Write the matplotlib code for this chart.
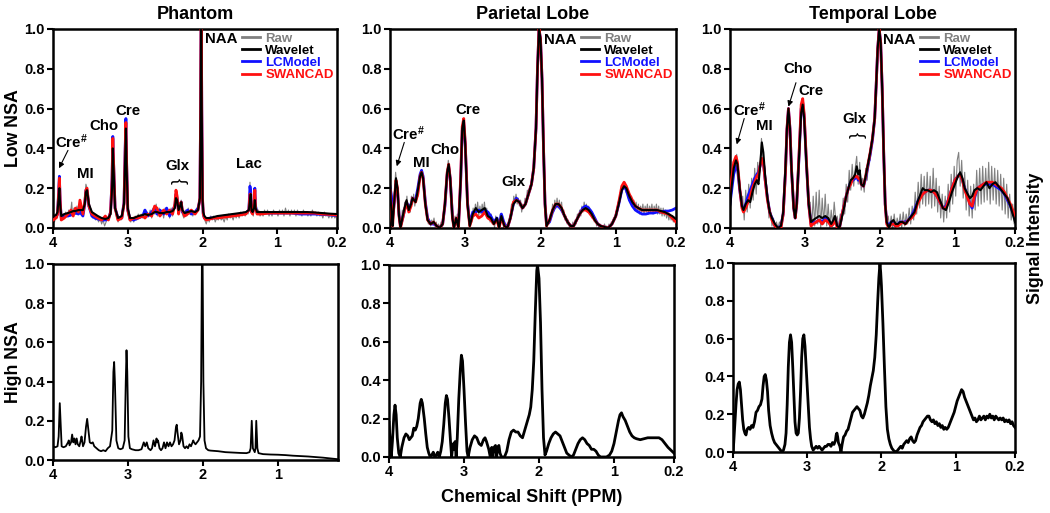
import numpy as np
import matplotlib
matplotlib.use("Agg")
import matplotlib.pyplot as plt

plt.rcParams['font.family'] = ['Liberation Sans', 'DejaVu Sans']
plt.rcParams['font.weight'] = 'bold'
plt.rcParams['mathtext.fontset'] = 'custom'
plt.rcParams['mathtext.rm'] = 'Liberation Sans:bold'
plt.rcParams['mathtext.default'] = 'rm'

# ---------------- data (ppm, intensity) ----------------
titulos = ['Phantom', 'Parietal Lobe', 'Temporal Lobe']
metodos = ['Raw', 'Wavelet', 'LCModel', 'SWANCAD']
colores = ['#808080', 'black', '#1010ff', '#ff1010']
xticks = [4, 3, 2, 1, 0.2]
xticklabels = ['4', '3', '2', '1', '0.2']

# Phantom, low NSA: shared ppm grid for Wavelet / LCModel / SWANCAD
ph_ppm = [4.00, 3.96, 3.94, 3.925, 3.915, 3.905, 3.89, 3.85, 3.80, 3.76, 3.73, 3.70, 3.66, 3.64, 3.60,
          3.575, 3.56, 3.545, 3.52, 3.48, 3.44, 3.40, 3.35, 3.30, 3.26, 3.23, 3.21, 3.20, 3.19, 3.17,
          3.13, 3.08, 3.05, 3.035, 3.025, 3.015, 3.00, 2.97, 2.92, 2.86, 2.80, 2.77, 2.73, 2.68, 2.64,
          2.61, 2.57, 2.52, 2.48, 2.44, 2.40, 2.37, 2.355, 2.34, 2.32, 2.30, 2.285, 2.27, 2.24, 2.20,
          2.15, 2.10, 2.06, 2.035, 2.025, 2.02, 2.015, 2.01, 2.00, 1.99, 1.975, 1.95, 1.90, 1.85, 1.80,
          1.70, 1.60, 1.50, 1.42, 1.38, 1.365, 1.355, 1.345, 1.33, 1.31, 1.30, 1.29, 1.27, 1.22, 1.10,
          1.00, 0.90, 0.80, 0.70, 0.60, 0.50, 0.40, 0.30, 0.20]
ph_wavelet = [.06, .065, .08, .15, .20, .12, .06, .07, .075, .08, .085, .085, .09, .09, .09,
              .12, .18, .19, .12, .08, .07, .06, .05, .045, .05, .07, .20, .40, .30, .10,
              .05, .06, .12, .35, .50, .30, .10, .05, .05, .06, .065, .07, .065, .07, .08,
              .08, .075, .075, .08, .08, .085, .10, .15, .14, .09, .11, .13, .09, .075, .08,
              .085, .08, .09, .15, .60, 1.0, 1.0, .60, .15, .08, .06, .05, .05, .055, .06,
              .065, .07, .075, .08, .09, .14, .17, .09, .08, .10, .14, .10, .08, .08, .08,
              .08, .08, .08, .08, .08, .078, .075, .072, .07]
ph_lcmodel = [.05, .055, .07, .18, .26, .14, .05, .06, .06, .065, .07, .075, .07, .08, .06,
              .12, .19, .19, .11, .06, .05, .045, .04, .04, .045, .08, .25, .46, .33, .10,
              .05, .05, .13, .40, .55, .32, .09, .045, .04, .05, .06, .09, .06, .08, .10,
              .07, .09, .07, .10, .06, .09, .11, .17, .15, .08, .12, .13, .08, .07, .09,
              .07, .08, .10, .14, .60, 1.0, 1.0, .60, .14, .07, .05, .045, .05, .05, .055,
              .06, .065, .07, .075, .09, .21, .18, .08, .075, .12, .20, .11, .075, .075, .075,
              .075, .075, .075, .07, .07, .07, .068, .066, .062]
ph_swancad = [.04, .05, .07, .17, .25, .14, .04, .05, .07, .09, .06, .10, .08, .14, .07,
              .13, .19, .20, .11, .07, .06, .05, .04, .06, .04, .08, .24, .45, .33, .10,
              .04, .05, .12, .38, .53, .32, .09, .04, .05, .05, .06, .05, .07, .06, .11,
              .10, .06, .09, .07, .09, .07, .12, .19, .16, .07, .12, .13, .09, .06, .07,
              .09, .07, .09, .15, .60, 1.0, 1.0, .60, .15, .07, .05, .04, .045, .05, .05,
              .055, .06, .065, .07, .09, .17, .17, .08, .07, .11, .19, .10, .07, .07, .075,
              .075, .075, .075, .075, .075, .075, .07, .068, .065]
ph_raw = [(4.00, .05), (3.98, .03), (3.96, .06), (3.94, .05), (3.925, .15), (3.915, .20), (3.905, .10),
          (3.89, .04), (3.87, .07), (3.85, .05), (3.83, .08), (3.81, .06), (3.79, .09), (3.77, .06),
          (3.75, .13), (3.74, .07), (3.72, .10), (3.70, .07), (3.68, .11), (3.66, .08), (3.64, .12),
          (3.62, .07), (3.60, .10), (3.58, .13), (3.56, .22), (3.545, .20), (3.53, .14), (3.51, .09),
          (3.49, .07), (3.47, .05), (3.45, .06), (3.43, .04), (3.41, .05), (3.39, .03), (3.37, .05),
          (3.35, .02), (3.33, .04), (3.31, .01), (3.29, .03), (3.27, .05), (3.25, .04), (3.23, .07),
          (3.21, .20), (3.20, .40), (3.19, .30), (3.17, .10), (3.15, .05), (3.13, .03), (3.11, .05),
          (3.09, .04), (3.07, .06), (3.05, .12), (3.035, .35), (3.025, .50), (3.015, .30), (3.00, .09),
          (2.98, .04), (2.96, .03), (2.94, .05), (2.92, .03), (2.90, .06), (2.88, .04), (2.86, .07),
          (2.84, .05), (2.82, .07), (2.80, .05), (2.78, .09), (2.76, .05), (2.74, .08), (2.72, .06),
          (2.70, .09), (2.68, .05), (2.66, .10), (2.64, .07), (2.62, .12), (2.60, .06), (2.58, .10),
          (2.56, .06), (2.54, .09), (2.52, .05), (2.50, .10), (2.48, .07), (2.46, .09), (2.44, .05),
          (2.42, .10), (2.40, .06), (2.38, .11), (2.365, .15), (2.355, .17), (2.34, .14), (2.32, .08),
          (2.30, .12), (2.285, .14), (2.27, .07), (2.25, .05), (2.23, .09), (2.21, .06), (2.19, .10),
          (2.17, .07), (2.15, .09), (2.13, .06), (2.11, .08), (2.09, .07), (2.07, .10), (2.05, .09),
          (2.035, .15), (2.025, .60), (2.02, 1.0), (2.015, 1.0), (2.01, .60), (2.00, .14), (1.99, .06),
          (1.97, .04), (1.95, .02), (1.93, .05), (1.91, .03), (1.89, .06), (1.87, .04), (1.85, .06),
          (1.83, .03), (1.81, .05), (1.79, .04), (1.77, .06), (1.75, .04), (1.73, .05), (1.71, .03),
          (1.69, .06), (1.67, .04), (1.65, .07), (1.63, .05), (1.61, .06), (1.59, .04), (1.57, .07),
          (1.55, .05), (1.53, .07), (1.51, .05), (1.49, .08), (1.47, .06), (1.45, .08), (1.43, .06),
          (1.41, .08), (1.39, .07), (1.375, .12), (1.365, .23), (1.355, .16), (1.34, .08), (1.32, .06),
          (1.31, .10), (1.30, .16), (1.29, .10), (1.27, .07), (1.25, .09), (1.23, .06), (1.21, .08),
          (1.19, .06), (1.17, .09), (1.15, .07), (1.13, .09), (1.11, .06), (1.09, .08), (1.07, .06),
          (1.05, .09), (1.03, .07), (1.01, .08), (0.99, .06), (0.97, .09), (0.95, .07), (0.93, .09),
          (0.91, .06), (0.89, .10), (0.87, .07), (0.85, .09), (0.83, .06), (0.81, .09), (0.79, .07),
          (0.77, .09), (0.75, .06), (0.73, .09), (0.71, .07), (0.69, .08), (0.67, .06), (0.65, .09),
          (0.63, .07), (0.61, .08), (0.59, .06), (0.57, .08), (0.55, .06), (0.53, .09), (0.51, .07),
          (0.49, .08), (0.47, .06), (0.45, .08), (0.43, .06), (0.41, .07), (0.39, .05), (0.37, .08),
          (0.35, .06), (0.33, .07), (0.31, .05), (0.29, .07), (0.27, .05), (0.25, .07), (0.23, .05),
          (0.21, .06), (0.20, .06)]

# Parietal lobe, low NSA
pa_ppm = [4.00, 3.98, 3.965, 3.95, 3.92, 3.90, 3.88, 3.86, 3.83, 3.80, 3.78, 3.75, 3.72, 3.70, 3.66,
          3.63, 3.60, 3.58, 3.56, 3.53, 3.50, 3.46, 3.42, 3.38, 3.34, 3.30, 3.27, 3.24, 3.22, 3.20,
          3.17, 3.15, 3.12, 3.09, 3.06, 3.04, 3.02, 3.00, 2.97, 2.94, 2.90, 2.86, 2.82, 2.78, 2.74,
          2.70, 2.66, 2.62, 2.58, 2.55, 2.52, 2.48, 2.44, 2.40, 2.36, 2.32, 2.28, 2.24, 2.20, 2.16,
          2.12, 2.09, 2.06, 2.04, 2.02, 2.00, 1.98, 1.96, 1.94, 1.92, 1.88, 1.84, 1.80, 1.76, 1.72,
          1.68, 1.64, 1.60, 1.56, 1.52, 1.48, 1.44, 1.40, 1.36, 1.32, 1.28, 1.24, 1.20, 1.15, 1.10,
          1.05, 1.00, 0.96, 0.92, 0.89, 0.86, 0.82, 0.78, 0.74, 0.70, 0.65, 0.60, 0.55, 0.50, 0.45,
          0.40, 0.35, 0.30, 0.25, 0.20]
pa_wavelet = [.20, .08, .01, .10, .25, .20, .06, .00, .06, .11, .14, .09, .12, .15, .13,
              .19, .26, .28, .25, .12, .04, .02, .03, .01, .00, .02, .12, .28, .32, .25,
              .05, .00, .05, .00, .25, .50, .54, .42, .12, .01, .07, .10, .08, .09, .10,
              .06, .05, .02, .05, .00, .06, .01, .00, .05, .12, .14, .13, .10, .12, .17,
              .22, .30, .50, .80, 1.0, .95, .75, .40, .12, .01, .04, .09, .12, .12, .10,
              .06, .03, .01, .01, .04, .07, .09, .10, .09, .07, .04, .02, .01, .005, .00,
              .02, .06, .12, .19, .21, .20, .16, .13, .11, .10, .09, .09, .09, .09, .09,
              .085, .08, .07, .06, .045]
pa_lcmodel = [.21, .16, .06, .10, .22, .19, .07, .01, .05, .10, .13, .10, .12, .15, .14,
              .20, .27, .29, .26, .13, .05, .02, .02, .01, .00, .02, .11, .27, .31, .25,
              .06, .01, .04, .01, .24, .49, .53, .42, .13, .02, .08, .08, .09, .08, .09,
              .08, .06, .03, .05, .01, .07, .02, .00, .05, .12, .15, .13, .10, .12, .17,
              .22, .30, .50, .80, 1.0, .95, .75, .40, .12, .02, .03, .08, .11, .11, .09,
              .06, .03, .01, .01, .04, .07, .10, .11, .10, .08, .05, .02, .01, .005, .00,
              .02, .06, .12, .19, .21, .19, .14, .11, .09, .08, .07, .07, .075, .075, .08,
              .08, .085, .085, .09, .10]
pa_swancad = [.19, .08, .01, .10, .24, .20, .06, .00, .05, .10, .13, .08, .11, .15, .13,
              .17, .26, .28, .25, .12, .04, .02, .03, .01, .00, .02, .12, .28, .32, .25,
              .05, .00, .05, .00, .26, .51, .55, .43, .12, .01, .06, .07, .05, .06, .08,
              .05, .04, .02, .04, .00, .05, .01, .00, .05, .13, .14, .13, .10, .12, .17,
              .22, .30, .50, .80, 1.0, .95, .75, .40, .12, .01, .04, .09, .12, .12, .10,
              .06, .03, .01, .01, .04, .07, .09, .09, .08, .06, .04, .02, .01, .005, .00,
              .02, .06, .13, .21, .23, .21, .17, .14, .11, .10, .09, .09, .09, .09, .09,
              .08, .075, .07, .05, .03]
pa_raw = [(4.00, .22), (3.985, .12), (3.97, .02), (3.955, .08), (3.94, .18), (3.925, .28), (3.91, .22),
          (3.895, .16), (3.88, .05), (3.865, .01), (3.85, .03), (3.835, .09), (3.82, .06), (3.805, .13),
          (3.79, .10), (3.775, .16), (3.76, .09), (3.745, .12), (3.73, .08), (3.715, .16), (3.70, .12),
          (3.685, .17), (3.67, .11), (3.655, .15), (3.64, .18), (3.625, .16), (3.61, .24), (3.595, .25),
          (3.58, .29), (3.565, .26), (3.55, .22), (3.535, .17), (3.52, .09), (3.505, .07), (3.49, .02),
          (3.475, .04), (3.46, .01), (3.445, .04), (3.43, .02), (3.415, .05), (3.40, .01), (3.385, .03),
          (3.37, .00), (3.355, .02), (3.34, .00), (3.32, .03), (3.30, .01), (3.285, .06), (3.27, .14),
          (3.255, .22), (3.24, .29), (3.225, .34), (3.21, .30), (3.195, .20), (3.18, .10), (3.165, .03),
          (3.15, .00), (3.135, .06), (3.12, .03), (3.105, .07), (3.09, .00), (3.075, .10), (3.06, .26),
          (3.045, .45), (3.03, .54), (3.015, .53), (3.00, .42), (2.985, .28), (2.97, .13), (2.955, .04),
          (2.94, .00), (2.925, .06), (2.91, .03), (2.895, .10), (2.88, .06), (2.865, .12), (2.85, .08),
          (2.835, .13), (2.82, .06), (2.805, .11), (2.79, .07), (2.775, .12), (2.76, .08), (2.745, .13),
          (2.73, .07), (2.715, .10), (2.70, .05), (2.685, .08), (2.67, .03), (2.655, .07), (2.64, .02),
          (2.625, .04), (2.61, .00), (2.595, .06), (2.58, .03), (2.565, .05), (2.55, .00), (2.535, .07),
          (2.52, .04), (2.505, .06), (2.49, .00), (2.475, .03), (2.46, .00), (2.445, .02), (2.43, .00),
          (2.415, .05), (2.40, .07), (2.385, .12), (2.37, .10), (2.355, .16), (2.34, .13), (2.325, .17),
          (2.31, .12), (2.295, .15), (2.28, .11), (2.265, .14), (2.25, .08), (2.235, .12), (2.22, .10),
          (2.205, .15), (2.19, .13), (2.175, .19), (2.16, .16), (2.145, .21), (2.13, .19), (2.115, .25),
          (2.10, .27), (2.08, .36), (2.06, .50), (2.04, .80), (2.02, 1.0), (2.00, .95), (1.98, .75),
          (1.96, .40), (1.945, .15), (1.93, .03), (1.915, .00), (1.90, .04), (1.885, .02), (1.87, .07),
          (1.855, .05), (1.84, .12), (1.825, .08), (1.81, .14), (1.795, .10), (1.78, .15), (1.765, .10),
          (1.75, .14), (1.735, .09), (1.72, .13), (1.705, .07), (1.69, .09), (1.675, .04), (1.66, .06),
          (1.645, .02), (1.63, .04), (1.615, .00), (1.60, .02), (1.585, .00), (1.57, .03), (1.555, .01),
          (1.54, .04), (1.525, .02), (1.51, .07), (1.495, .05), (1.48, .09), (1.465, .06), (1.45, .11),
          (1.435, .08), (1.42, .13), (1.405, .09), (1.39, .12), (1.375, .08), (1.36, .11), (1.345, .07),
          (1.33, .09), (1.315, .05), (1.30, .07), (1.285, .03), (1.27, .05), (1.255, .01), (1.24, .03),
          (1.225, .00), (1.21, .02), (1.195, .00), (1.18, .01), (1.165, .00), (1.15, .02), (1.135, .00),
          (1.12, .01), (1.105, .00), (1.09, .02), (1.075, .00), (1.06, .03), (1.045, .02), (1.03, .05),
          (1.015, .04), (1.00, .08), (0.985, .09), (0.97, .13), (0.955, .12), (0.94, .18), (0.925, .17),
          (0.91, .22), (0.895, .20), (0.88, .23), (0.865, .18), (0.85, .20), (0.835, .15), (0.82, .18),
          (0.805, .13), (0.79, .16), (0.775, .11), (0.76, .14), (0.745, .09), (0.73, .13), (0.715, .08),
          (0.70, .12), (0.685, .07), (0.67, .11), (0.655, .08), (0.64, .12), (0.625, .07), (0.61, .11),
          (0.595, .08), (0.58, .12), (0.565, .07), (0.55, .11), (0.535, .08), (0.52, .12), (0.505, .07),
          (0.49, .11), (0.475, .08), (0.46, .12), (0.445, .07), (0.43, .11), (0.415, .07), (0.40, .10),
          (0.385, .06), (0.37, .10), (0.355, .06), (0.34, .09), (0.325, .05), (0.31, .08), (0.295, .04),
          (0.28, .07), (0.265, .04), (0.25, .06), (0.235, .03), (0.22, .05), (0.205, .02), (0.20, .04)]

# Temporal lobe, low NSA
te_ppm = [4.00, 3.98, 3.95, 3.92, 3.90, 3.87, 3.84, 3.82, 3.79, 3.76, 3.73, 3.70, 3.67, 3.64, 3.62,
          3.60, 3.575, 3.555, 3.53, 3.50, 3.47, 3.44, 3.40, 3.36, 3.32, 3.29, 3.26, 3.24, 3.22, 3.20,
          3.18, 3.15, 3.13, 3.11, 3.08, 3.05, 3.03, 3.01, 2.98, 2.95, 2.92, 2.89, 2.85, 2.81, 2.77,
          2.73, 2.69, 2.65, 2.62, 2.60, 2.57, 2.54, 2.51, 2.48, 2.45, 2.42, 2.39, 2.36, 2.33, 2.31,
          2.29, 2.27, 2.25, 2.22, 2.19, 2.16, 2.13, 2.10, 2.07, 2.05, 2.03, 2.01, 1.99, 1.97, 1.95,
          1.93, 1.91, 1.88, 1.85, 1.82, 1.79, 1.76, 1.73, 1.70, 1.66, 1.62, 1.58, 1.54, 1.50, 1.46,
          1.43, 1.40, 1.36, 1.32, 1.28, 1.24, 1.20, 1.16, 1.12, 1.08, 1.04, 1.00, 0.96, 0.93, 0.90,
          0.87, 0.83, 0.80, 0.77, 0.74, 0.70, 0.66, 0.62, 0.58, 0.54, 0.50, 0.46, 0.42, 0.38, 0.34,
          0.30, 0.26, 0.23, 0.20]
te_wavelet = [.10, .20, .30, .34, .32, .20, .11, .09, .12, .14, .13, .18, .22, .24, .22,
              .30, .43, .38, .26, .15, .08, .05, .02, .00, .01, .08, .30, .50, .60, .50,
              .30, .10, .05, .12, .35, .58, .62, .55, .32, .12, .03, .04, .05, .06, .05,
              .06, .05, .02, .04, .06, .01, .00, .05, .10, .16, .20, .24, .25, .27, .31,
              .27, .29, .22, .21, .26, .32, .38, .45, .55, .72, .90, 1.0, .93, .70, .38,
              .12, .03, .00, .03, .04, .02, .02, .03, .03, .02, .04, .06, .08, .13, .17,
              .20, .19, .19, .18, .19, .18, .14, .10, .09, .13, .18, .22, .26, .28, .25,
              .20, .17, .15, .16, .19, .20, .19, .21, .23, .20, .22, .23, .21, .19, .17,
              .15, .11, .07, .03]
te_lcmodel = [.12, .18, .27, .31, .30, .19, .11, .09, .12, .16, .19, .22, .25, .27, .28,
              .31, .34, .33, .24, .15, .08, .05, .01, .00, .01, .07, .28, .49, .60, .50,
              .30, .10, .05, .12, .35, .60, .63, .56, .32, .12, .02, .03, .03, .04, .03,
              .05, .04, .01, .03, .05, .01, .00, .06, .11, .16, .20, .23, .24, .25, .26,
              .24, .25, .22, .21, .25, .31, .37, .44, .55, .72, .90, 1.0, .93, .70, .38,
              .12, .03, .01, .03, .02, .01, .02, .03, .03, .03, .04, .06, .09, .13, .16,
              .17, .18, .19, .19, .18, .16, .13, .10, .11, .15, .20, .24, .26, .27, .24,
              .20, .16, .12, .10, .15, .20, .21, .22, .22, .22, .22, .21, .20, .19, .17,
              .14, .11, .08, .05]
te_swancad = [.16, .24, .33, .36, .33, .20, .10, .08, .10, .13, .16, .20, .23, .26, .27,
              .31, .35, .33, .24, .14, .08, .04, .01, .00, .00, .07, .28, .50, .60, .50,
              .30, .10, .05, .12, .36, .62, .65, .57, .33, .12, .01, .02, .03, .04, .02,
              .04, .03, .01, .02, .05, .00, .00, .06, .11, .16, .20, .22, .25, .26, .26,
              .25, .25, .22, .21, .26, .32, .38, .45, .55, .72, .90, 1.0, .93, .70, .38,
              .12, .02, .00, .02, .02, .01, .01, .02, .03, .02, .04, .05, .07, .12, .15,
              .17, .18, .19, .19, .18, .16, .13, .10, .10, .15, .20, .24, .26, .27, .24,
              .19, .15, .12, .11, .16, .20, .21, .22, .23, .23, .23, .22, .21, .20, .18,
              .15, .12, .09, .06]
te_raw = [(4.00, .05), (3.98, .22), (3.96, .26), (3.94, .33), (3.92, .30), (3.91, .37), (3.89, .27),
          (3.87, .24), (3.85, .12), (3.83, .16), (3.81, .04), (3.79, .19), (3.77, .08), (3.75, .22),
          (3.73, .10), (3.71, .25), (3.69, .14), (3.67, .30), (3.65, .17), (3.63, .33), (3.61, .24),
          (3.59, .38), (3.58, .45), (3.56, .36), (3.54, .32), (3.52, .20), (3.50, .17), (3.48, .05),
          (3.46, .09), (3.44, .01), (3.42, .05), (3.40, .00), (3.38, .03), (3.36, .00), (3.34, .03),
          (3.32, .00), (3.30, .06), (3.28, .16), (3.26, .30), (3.24, .50), (3.22, .60), (3.20, .50),
          (3.18, .30), (3.16, .13), (3.14, .06), (3.12, .08), (3.10, .20), (3.08, .36), (3.06, .53),
          (3.04, .61), (3.03, .63), (3.01, .55), (2.99, .40), (2.97, .24), (2.95, .12), (2.93, .13),
          (2.91, .00), (2.89, .16), (2.87, .01), (2.85, .18), (2.83, .02), (2.81, .19), (2.79, .00),
          (2.77, .15), (2.75, .02), (2.73, .17), (2.71, .01), (2.69, .12), (2.67, .00), (2.65, .09),
          (2.63, .01), (2.61, .13), (2.59, .04), (2.57, .06), (2.55, .00), (2.53, .07), (2.51, .03),
          (2.49, .15), (2.47, .07), (2.45, .22), (2.43, .13), (2.41, .29), (2.39, .19), (2.37, .32),
          (2.35, .21), (2.33, .30), (2.31, .36), (2.29, .22), (2.27, .33), (2.25, .19), (2.23, .25),
          (2.21, .18), (2.19, .30), (2.17, .24), (2.15, .36), (2.13, .34), (2.11, .43), (2.09, .50),
          (2.07, .56), (2.05, .72), (2.03, .90), (2.01, 1.0), (1.99, .93), (1.97, .70), (1.95, .38),
          (1.93, .12), (1.91, .02), (1.89, .06), (1.87, .00), (1.85, .06), (1.83, .00), (1.81, .07),
          (1.79, .00), (1.77, .05), (1.75, .01), (1.73, .07), (1.71, .00), (1.69, .08), (1.67, .01),
          (1.65, .07), (1.63, .02), (1.61, .10), (1.59, .02), (1.57, .11), (1.55, .04), (1.53, .18),
          (1.51, .07), (1.49, .23), (1.47, .10), (1.45, .27), (1.43, .12), (1.41, .26), (1.39, .11),
          (1.37, .28), (1.35, .12), (1.33, .26), (1.31, .10), (1.29, .30), (1.27, .11), (1.25, .25),
          (1.23, .08), (1.21, .21), (1.19, .05), (1.17, .17), (1.15, .03), (1.13, .16), (1.11, .05),
          (1.09, .22), (1.07, .08), (1.05, .27), (1.03, .12), (1.01, .31), (0.99, .16), (0.97, .34),
          (0.95, .38), (0.93, .21), (0.91, .34), (0.89, .15), (0.87, .28), (0.85, .09), (0.83, .24),
          (0.81, .06), (0.79, .21), (0.77, .05), (0.75, .22), (0.73, .09), (0.71, .29), (0.69, .11),
          (0.67, .30), (0.65, .12), (0.63, .31), (0.61, .13), (0.59, .30), (0.57, .14), (0.55, .33),
          (0.53, .12), (0.51, .31), (0.49, .14), (0.47, .30), (0.45, .12), (0.43, .29), (0.41, .11),
          (0.39, .27), (0.37, .09), (0.35, .25), (0.33, .07), (0.31, .22), (0.29, .05), (0.27, .17),
          (0.25, .04), (0.23, .12), (0.21, .02), (0.20, .05)]

# High NSA (reference spectra)
ph_high = [(4.00, .07), (3.97, .065), (3.94, .07), (3.925, .12), (3.91, .29), (3.90, .20), (3.885, .07),
           (3.86, .065), (3.83, .07), (3.80, .09), (3.79, .10), (3.78, .075), (3.76, .09), (3.745, .13),
           (3.73, .09), (3.715, .11), (3.70, .08), (3.685, .11), (3.67, .08), (3.65, .07), (3.63, .10),
           (3.62, .12), (3.60, .07), (3.58, .09), (3.56, .17), (3.545, .21), (3.53, .16), (3.51, .09),
           (3.49, .085), (3.47, .09), (3.45, .07), (3.42, .06), (3.39, .05), (3.36, .045), (3.33, .05),
           (3.30, .045), (3.27, .06), (3.24, .07), (3.21, .15), (3.195, .45), (3.185, .50), (3.175, .40),
           (3.155, .10), (3.13, .06), (3.10, .055), (3.07, .06), (3.045, .10), (3.03, .40), (3.02, .56),
           (3.01, .45), (2.995, .12), (2.975, .06), (2.95, .055), (2.90, .05), (2.86, .05), (2.82, .055),
           (2.79, .09), (2.77, .07), (2.75, .09), (2.73, .06), (2.70, .05), (2.68, .06), (2.66, .10),
           (2.64, .07), (2.62, .11), (2.61, .09), (2.60, .10), (2.58, .06), (2.56, .05), (2.54, .06),
           (2.52, .09), (2.50, .06), (2.48, .09), (2.46, .07), (2.44, .09), (2.42, .07), (2.40, .08),
           (2.38, .10), (2.36, .17), (2.35, .18), (2.34, .14), (2.32, .08), (2.30, .10), (2.29, .14),
           (2.28, .13), (2.26, .07), (2.24, .06), (2.22, .07), (2.20, .06), (2.18, .08), (2.16, .07),
           (2.14, .09), (2.13, .10), (2.12, .09), (2.10, .08), (2.08, .09), (2.06, .10), (2.04, .12),
           (2.025, .40), (2.015, 1.0), (2.005, 1.0), (1.995, .40), (1.98, .10), (1.96, .06), (1.93, .05),
           (1.90, .048), (1.80, .045), (1.70, .04), (1.60, .038), (1.50, .036), (1.42, .035), (1.38, .04),
           (1.365, .06), (1.35, .20), (1.335, .06), (1.31, .04), (1.30, .06), (1.29, .20), (1.275, .06),
           (1.26, .035), (1.20, .03), (1.10, .028), (1.00, .027), (0.90, .025), (0.80, .022), (0.70, .02),
           (0.60, .018), (0.50, .015), (0.40, .012), (0.30, .008), (0.20, .004)]
pa_high = [(4.00, .18), (3.985, .08), (3.97, .00), (3.955, .08), (3.935, .22), (3.92, .27), (3.905, .22),
           (3.89, .10), (3.87, .02), (3.85, .00), (3.83, .05), (3.80, .10), (3.775, .12), (3.75, .11),
           (3.73, .09), (3.71, .10), (3.69, .11), (3.67, .15), (3.65, .14), (3.63, .16), (3.61, .20),
           (3.585, .28), (3.57, .30), (3.555, .28), (3.53, .20), (3.51, .12), (3.49, .05), (3.47, .02),
           (3.45, .00), (3.43, .01), (3.41, .025), (3.39, .00), (3.37, .01), (3.35, .025), (3.33, .00),
           (3.31, .03), (3.29, .08), (3.27, .17), (3.25, .28), (3.235, .32), (3.22, .30), (3.20, .20),
           (3.18, .08), (3.165, .00), (3.15, .06), (3.14, .07), (3.13, .04), (3.12, .08), (3.105, .00),
           (3.09, .10), (3.07, .30), (3.05, .45), (3.035, .53), (3.02, .50), (3.00, .35), (2.98, .18),
           (2.96, .03), (2.945, .00), (2.92, .05), (2.89, .09), (2.86, .11), (2.83, .10), (2.80, .07),
           (2.77, .06), (2.74, .09), (2.72, .10), (2.70, .08), (2.67, .04), (2.65, .00), (2.63, .05),
           (2.615, .00), (2.60, .05), (2.58, .06), (2.565, .00), (2.55, .05), (2.535, .06), (2.52, .02),
           (2.50, .00), (2.46, .00), (2.43, .03), (2.40, .09), (2.37, .13), (2.34, .14), (2.31, .13),
           (2.28, .13), (2.25, .11), (2.22, .10), (2.19, .14), (2.16, .18), (2.13, .22), (2.11, .26),
           (2.09, .35), (2.07, .50), (2.05, .75), (2.03, .97), (2.02, 1.0), (2.00, .93), (1.98, .70),
           (1.96, .35), (1.94, .10), (1.92, .01), (1.90, .03), (1.87, .07), (1.84, .10), (1.81, .12),
           (1.78, .13), (1.75, .12), (1.72, .11), (1.69, .08), (1.66, .05), (1.63, .02), (1.60, .01),
           (1.57, .00), (1.54, .01), (1.51, .04), (1.48, .07), (1.45, .09), (1.42, .10), (1.39, .09),
           (1.36, .07), (1.33, .06), (1.30, .04), (1.27, .04), (1.24, .03), (1.21, .01), (1.18, .00),
           (1.14, .00), (1.10, .00), (1.06, .01), (1.03, .03), (1.00, .07), (0.97, .13), (0.94, .19),
           (0.92, .22), (0.90, .23), (0.88, .21), (0.85, .19), (0.82, .16), (0.79, .13), (0.76, .11),
           (0.73, .10), (0.70, .095), (0.65, .09), (0.60, .095), (0.55, .10), (0.50, .10), (0.45, .10),
           (0.40, .10), (0.36, .09), (0.32, .07), (0.28, .05), (0.24, .035), (0.20, .02)]
te_high = [(4.00, .00), (3.99, .05), (3.975, .15), (3.96, .25), (3.945, .33), (3.93, .36), (3.915, .37),
           (3.90, .33), (3.885, .25), (3.87, .17), (3.855, .12), (3.84, .10), (3.825, .09), (3.81, .12),
           (3.79, .13), (3.77, .12), (3.75, .14), (3.73, .13), (3.71, .16), (3.69, .21), (3.67, .22),
           (3.65, .24), (3.63, .25), (3.61, .28), (3.595, .35), (3.58, .40), (3.565, .41), (3.55, .38),
           (3.535, .32), (3.52, .22), (3.50, .14), (3.48, .10), (3.46, .07), (3.44, .05), (3.42, .04),
           (3.40, .03), (3.38, .02), (3.36, .01), (3.34, .00), (3.32, .01), (3.30, .04), (3.285, .10),
           (3.27, .25), (3.255, .45), (3.24, .58), (3.225, .62), (3.21, .58), (3.195, .45), (3.18, .30),
           (3.165, .16), (3.15, .10), (3.135, .09), (3.12, .10), (3.105, .18), (3.09, .32), (3.075, .50),
           (3.06, .60), (3.045, .62), (3.03, .56), (3.015, .45), (3.00, .33), (2.985, .22), (2.97, .13),
           (2.955, .07), (2.94, .03), (2.92, .01), (2.90, .02), (2.88, .03), (2.86, .02), (2.84, .03),
           (2.82, .02), (2.80, .01), (2.78, .02), (2.76, .03), (2.74, .03), (2.72, .04), (2.70, .04),
           (2.68, .03), (2.66, .05), (2.64, .04), (2.62, .06), (2.61, .09), (2.60, .10), (2.59, .08),
           (2.58, .05), (2.56, .03), (2.545, .00), (2.53, .04), (2.51, .08), (2.49, .09), (2.47, .11),
           (2.45, .12), (2.43, .15), (2.41, .18), (2.39, .21), (2.37, .22), (2.35, .23), (2.33, .24),
           (2.31, .23), (2.29, .22), (2.27, .19), (2.25, .18), (2.23, .20), (2.21, .23), (2.19, .26),
           (2.17, .30), (2.15, .35), (2.13, .39), (2.11, .43), (2.09, .50), (2.07, .62), (2.05, .80),
           (2.035, .92), (2.02, 1.0), (2.01, .95), (2.00, .88), (1.98, .68), (1.96, .45), (1.94, .24),
           (1.92, .12), (1.90, .07), (1.88, .04), (1.86, .02), (1.84, .01), (1.82, .00), (1.80, .00),
           (1.78, .01), (1.76, .02), (1.74, .03), (1.72, .02), (1.70, .04), (1.68, .05), (1.66, .06),
           (1.64, .05), (1.62, .07), (1.60, .08), (1.58, .06), (1.56, .05), (1.54, .06), (1.52, .09),
           (1.50, .11), (1.48, .13), (1.46, .14), (1.44, .16), (1.42, .17), (1.40, .18), (1.38, .19),
           (1.36, .19), (1.34, .17), (1.32, .16), (1.30, .17), (1.28, .15), (1.26, .16), (1.24, .14),
           (1.22, .15), (1.20, .13), (1.18, .14), (1.16, .12), (1.14, .13), (1.12, .12), (1.10, .13),
           (1.08, .15), (1.06, .17), (1.04, .19), (1.02, .21), (1.00, .24), (0.98, .27), (0.96, .29),
           (0.94, .31), (0.92, .33), (0.90, .32), (0.88, .29), (0.86, .27), (0.84, .25), (0.82, .23),
           (0.80, .21), (0.78, .19), (0.76, .17), (0.74, .18), (0.72, .16), (0.70, .17), (0.68, .19),
           (0.66, .17), (0.64, .18), (0.62, .19), (0.60, .17), (0.58, .19), (0.56, .18), (0.54, .20),
           (0.52, .18), (0.50, .19), (0.48, .17), (0.46, .19), (0.44, .18), (0.42, .17), (0.40, .18),
           (0.38, .17), (0.36, .18), (0.34, .16), (0.32, .17), (0.30, .16), (0.28, .17), (0.26, .15),
           (0.24, .16), (0.22, .14), (0.20, .13)]

# ---------------- figure ----------------
fig = plt.figure(figsize=(10.5, 5.13), dpi=100)

pos_top = [[0.0505, 0.5556, 0.2705, 0.3879],
           [0.3714, 0.5556, 0.2724, 0.3879],
           [0.6952, 0.5556, 0.2714, 0.3879]]
pos_bottom = [[0.0505, 0.1033, 0.2714, 0.3821],
              [0.3705, 0.1092, 0.2714, 0.3743],
              [0.6981, 0.1189, 0.2686, 0.3684]]


def estilo(ax, xt=xticks, xtl=xticklabels):
    ax.set_xlim(4, 0.2)
    ax.set_ylim(0, 1)
    ax.set_xticks(xt)
    ax.set_xticklabels(xtl)
    ax.set_yticks([0, 0.2, 0.4, 0.6, 0.8, 1.0])
    ax.set_yticklabels(['0.0', '0.2', '0.4', '0.6', '0.8', '1.0'])
    for s in ax.spines.values():
        s.set_linewidth(1.8)
    ax.tick_params(direction='out', length=4, width=1.5, labelsize=10.5, pad=2)
    for t in ax.get_xticklabels() + ax.get_yticklabels():
        t.set_fontweight('bold')


def par(datos):
    d = np.array(datos)
    return d[:, 0], d[:, 1]


top = [(ph_ppm, ph_raw, ph_wavelet, ph_lcmodel, ph_swancad),
       (pa_ppm, pa_raw, pa_wavelet, pa_lcmodel, pa_swancad),
       (te_ppm, te_raw, te_wavelet, te_lcmodel, te_swancad)]

axes_top = []
for i, (ppm, raw, wav, lcm, swa) in enumerate(top):
    ax = fig.add_axes(pos_top[i])
    rx, ry = par(raw)
    l_g, = ax.plot(rx, ry, color=colores[0], lw=0.8, zorder=1)
    l_b, = ax.plot(ppm, lcm, color=colores[2], lw=2.0, zorder=2)
    l_r, = ax.plot(ppm, swa, color=colores[3], lw=2.0, zorder=3)
    l_k, = ax.plot(ppm, wav, color=colores[1], lw=1.5, zorder=4)
    estilo(ax)
    ax.set_title(titulos[i], fontsize=13, fontweight='bold', pad=7)
    leg = ax.legend([l_g, l_k, l_b, l_r], metodos, loc='upper right',
                    bbox_to_anchor=(1.0, 1.0), frameon=False,
                    prop={'weight': 'bold', 'size': 9.5}, handlelength=1.4,
                    handletextpad=0.4, labelspacing=0.0, borderpad=0.15,
                    borderaxespad=0.1)
    for t, c in zip(leg.get_texts(), colores):
        t.set_color(c)
    for h in leg.legend_handles:
        h.set_linewidth(2.0)
    axes_top.append(ax)

bottom = [ph_high, pa_high, te_high]
for i, datos in enumerate(bottom):
    ax = fig.add_axes(pos_bottom[i])
    x, y = par(datos)
    ax.plot(x, y, color='black', lw=1.3 if i == 0 else 2.0)
    if i == 0:
        estilo(ax, [4, 3, 2, 1], ['4', '3', '2', '1'])
    else:
        estilo(ax)

# peak labels
fs = 10.8
arrow = dict(arrowstyle='-|>', lw=0.8, color='black', mutation_scale=8, shrinkA=0, shrinkB=0)

ax = axes_top[0]
ax.text(3.76, 0.435, 'Cre$^{\\#}$', fontsize=fs, ha='center', va='center')
ax.annotate('', xy=(3.92, 0.30), xytext=(3.80, 0.39), arrowprops=arrow)
ax.text(3.57, 0.27, 'MI', fontsize=fs, ha='center', va='center')
ax.text(3.32, 0.51, 'Cho', fontsize=fs, ha='center', va='center')
ax.text(3.00, 0.59, 'Cre', fontsize=fs, ha='center', va='center')
ax.text(2.33, 0.31, 'Glx', fontsize=fs, ha='center', va='center')
ax.text(2.32, 0.235, '{', fontsize=13, ha='center', va='center', rotation=-90, fontweight='normal')
ax.text(1.38, 0.32, 'Lac', fontsize=fs, ha='center', va='center')
ax.text(1.97, 0.95, 'NAA', fontsize=fs, ha='left', va='center')

ax = axes_top[1]
ax.text(3.76, 0.475, 'Cre$^{\\#}$', fontsize=fs, ha='center', va='center')
ax.annotate('', xy=(3.91, 0.31), xytext=(3.81, 0.43), arrowprops=arrow)
ax.text(3.58, 0.325, 'MI', fontsize=fs, ha='center', va='center')
ax.text(3.27, 0.39, 'Cho', fontsize=fs, ha='center', va='center')
ax.text(2.97, 0.593, 'Cre', fontsize=fs, ha='center', va='center')
ax.text(2.36, 0.23, 'Glx', fontsize=fs, ha='center', va='center')
ax.text(1.96, 0.946, 'NAA', fontsize=fs, ha='left', va='center')

ax = axes_top[2]
ax.text(3.74, 0.593, 'Cre$^{\\#}$', fontsize=fs, ha='center', va='center')
ax.annotate('', xy=(3.91, 0.42), xytext=(3.81, 0.55), arrowprops=arrow)
ax.text(3.54, 0.51, 'MI', fontsize=fs, ha='center', va='center')
ax.text(3.09, 0.80, 'Cho', fontsize=fs, ha='center', va='center')
ax.annotate('', xy=(3.22, 0.61), xytext=(3.12, 0.73), arrowprops=arrow)
ax.text(2.92, 0.69, 'Cre', fontsize=fs, ha='center', va='center')
ax.text(2.34, 0.546, 'Glx', fontsize=fs, ha='center', va='center')
ax.text(2.32, 0.465, '{', fontsize=13, ha='center', va='center', rotation=-90, fontweight='normal')
ax.text(1.96, 0.946, 'NAA', fontsize=fs, ha='left', va='center')

# row / axis labels
fig.text(14 / 1050, 1 - 128 / 513, 'Low NSA', rotation=90, ha='center', va='center', fontsize=12.8, fontweight='bold')
fig.text(14 / 1050, 1 - 362 / 513, 'High NSA', rotation=90, ha='center', va='center', fontsize=12.8, fontweight='bold')
fig.text(532 / 1050, 1 - 497 / 513, 'Chemical Shift (PPM)', ha='center', va='center', fontsize=13, fontweight='bold')
fig.text(1035 / 1050, 1 - 238 / 513, 'Signal Intensity', rotation=90, ha='center', va='center', fontsize=12.8, fontweight='bold')

fig.savefig('out.png', dpi=100)
